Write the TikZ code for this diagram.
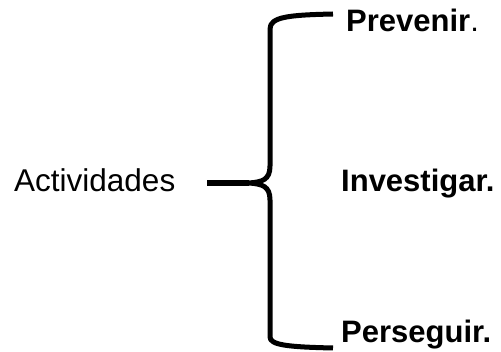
\documentclass[tikz,border=0pt]{standalone}
\usepackage{fontspec}
\setmainfont{Liberation Sans}
\begin{document}
\begin{tikzpicture}[x=1pt,y=-1pt,
  label/.style={inner sep=0pt,anchor=base west,font=\fontsize{31.5}{36}\selectfont},
  item/.style={inner sep=0pt,anchor=base west,font=\fontsize{31}{36}\selectfont\bfseries},
  bracestroke/.style={line width=5pt,line cap=butt,line join=round}]
\useasboundingbox[fill=white] (0,0) rectangle (501,352);

% left label
\node[label] (act) at (14,192) {Actividades};

% the three items
\node[item] (prev) at (346,32) {Prevenir\mdseries.};
\node[item] (inv)  at (341,192) {Investigar.};
\node[item] (pers) at (341,343) {Perseguir.};

% brace points
\coordinate (btop) at (333,14);
\coordinate (bbot) at (333,348);
\coordinate (cusp) at (249,183);
\coordinate (tip)  at (207,183);

% curly brace
\draw[bracestroke] (btop) .. controls (288,15) and (270,17) .. (270,29)
  -- (270,166) .. controls (270,180) and (262,182) .. (cusp)
  .. controls (262,184) and (270,186) .. (270,200)
  -- (270,337) .. controls (270,345) and (288,347) .. (bbot);
\draw[line width=6pt] (tip) -- (cusp);
\end{tikzpicture}
\end{document}
